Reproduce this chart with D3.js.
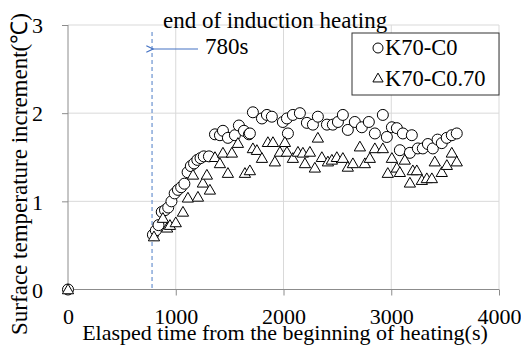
<!DOCTYPE html>
<html>
<head>
<meta charset="utf-8">
<script src="https://cdn.jsdelivr.net/npm/d3@7"></script>
<style>
  body { margin: 0; background: #fff; }
  svg text { font-family: "Liberation Serif", "Times New Roman", serif; }
</style>
</head>
<body>
<div id="chart"></div>
<script>
// K70-C0 (circles)
const timeC0 = [0, 788, 815, 840, 870, 900, 930, 960, 990, 1020, 1050, 1080, 1110, 1140, 1170, 1200, 1230,
  1260, 1308, 1364, 1410, 1438, 1484, 1549, 1586, 1633, 1679, 1688, 1716, 1800, 1846, 1892, 1994, 2032,
  2041, 2087, 2152, 2217, 2273, 2319, 2403, 2458, 2505, 2551, 2597, 2662, 2727, 2792, 2848, 2922, 2959,
  3006, 3052, 3080, 3108, 3173, 3191, 3247, 3293, 3340, 3386, 3430, 3469, 3515, 3562, 3608];
const valC0 = [0, 0.62, 0.67, 0.73, 0.88, 0.9, 0.93, 1.0, 1.09, 1.13, 1.16, 1.2, 1.33, 1.4, 1.43, 1.47, 1.49,
  1.51, 1.51, 1.76, 1.75, 1.8, 1.72, 1.75, 1.86, 1.8, 1.76, 1.77, 2.01, 1.94, 1.98, 1.96, 1.9, 1.94,
  1.77, 1.98, 2.0, 1.89, 1.87, 1.96, 1.87, 1.87, 1.9, 1.98, 1.81, 1.9, 1.84, 1.9, 1.77, 1.98, 1.73,
  1.84, 1.83, 1.58, 1.77, 1.55, 1.75, 1.6, 1.6, 1.65, 1.6, 1.7, 1.66, 1.72, 1.75, 1.77];

// K70-C0.70 (triangles)
const timeC070 = [0, 798, 881, 920, 946, 1000, 1067, 1113, 1160, 1206, 1252, 1289, 1317, 1364, 1410, 1438,
  1484, 1521, 1577, 1642, 1688, 1716, 1753, 1800, 1855, 1902, 1920, 1967, 2013, 2032, 2087, 2134, 2180,
  2199, 2245, 2291, 2319, 2356, 2412, 2449, 2495, 2551, 2597, 2644, 2709, 2755, 2801, 2848, 2922, 2968,
  3006, 3052, 3080, 3126, 3173, 3200, 3237, 3284, 3330, 3377, 3404, 3469, 3516, 3562, 3608];
const valC070 = [0, 0.6, 0.81, 0.7, 0.73, 0.76, 0.88, 1.04, 1.3, 1.05, 1.21, 1.3, 1.13, 1.5, 1.43, 1.55,
  1.32, 1.55, 1.66, 1.32, 1.35, 1.6, 1.58, 1.49, 1.67, 1.67, 1.45, 1.56, 1.67, 1.56, 1.49, 1.56, 1.55,
  1.43, 1.56, 1.38, 1.72, 1.5, 1.45, 1.47, 1.5, 1.49, 1.39, 1.43, 1.62, 1.43, 1.49, 1.6, 1.6, 1.32,
  1.49, 1.38, 1.33, 1.47, 1.21, 1.35, 1.35, 1.24, 1.26, 1.26, 1.45, 1.33, 1.41, 1.55, 1.45];

const xTicks = [0, 1000, 2000, 3000, 4000];
const yTicks = [0, 1, 2, 3];
const endTime = 780;

const width = 521, height = 347;
const serif = '"Liberation Serif", "Times New Roman", serif';
const svg = d3.select('#chart').append('svg')
    .attr('width', width)
    .attr('height', height);

const x = d3.scaleLinear().domain([0, 4000]).range([68, 499]);
const y = d3.scaleLinear().domain([0, 3]).range([289.5, 25]);

// gridlines
svg.append('g')
    .selectAll('line.vg')
    .data(xTicks.slice(1))
    .enter().append('line')
    .attr('x1', d => x(d)).attr('x2', d => x(d))
    .attr('y1', y(0)).attr('y2', y(3))
    .attr('stroke', '#d9d9d9').attr('stroke-width', 1);

svg.append('g')
    .selectAll('line.hg')
    .data(yTicks.slice(1))
    .enter().append('line')
    .attr('x1', x(0)).attr('x2', x(4000))
    .attr('y1', d => y(d)).attr('y2', d => y(d))
    .attr('stroke', '#d9d9d9').attr('stroke-width', 1);

// axes
const xAxis = svg.append('g')
    .attr('transform', `translate(0,${y(0)})`)
    .call(d3.axisBottom(x).tickValues(xTicks).tickSize(6).tickFormat(d3.format('d')));
const yAxis = svg.append('g')
    .attr('transform', `translate(${x(0)},0)`)
    .call(d3.axisLeft(y).tickValues(yTicks).tickSize(6).tickFormat(d3.format('d')));

[xAxis, yAxis].forEach(a => {
    a.attr('font-family', serif).attr('font-size', 22);
    a.select('.domain').attr('stroke', '#8c8c8c');
    a.selectAll('.tick line').attr('stroke', '#8c8c8c');
    a.selectAll('.tick text').attr('fill', '#000');
});
xAxis.select('.domain').attr('d', `M${x(0)},0H${x(4000)}`);
xAxis.selectAll('.tick line').filter(d => d === 0).remove();
xAxis.selectAll('.tick text').attr('y', 19);
yAxis.select('.domain').attr('d', `M0,${y(0)}V${y(3)}`);
yAxis.selectAll('.tick text').attr('x', -25).attr('dy', '0.35em');

// end of induction heating marker
svg.append('line')
    .attr('x1', x(endTime)).attr('x2', x(endTime))
    .attr('y1', 32).attr('y2', y(0))
    .attr('stroke', '#6b93d0').attr('stroke-width', 1.2)
    .attr('stroke-dasharray', '4,3');

svg.append('defs').append('marker')
    .attr('id', 'arr')
    .attr('viewBox', '0 0 10 10')
    .attr('refX', 1).attr('refY', 5)
    .attr('markerWidth', 7).attr('markerHeight', 7)
    .attr('orient', 'auto-start-reverse')
    .append('path')
    .attr('d', 'M9,1L1,5L9,9')
    .attr('fill', 'none')
    .attr('stroke', '#4472c4')
    .attr('stroke-width', 1.3);

svg.append('line')
    .attr('x1', 198).attr('x2', x(endTime) + 1)
    .attr('y1', 49).attr('y2', 49)
    .attr('stroke', '#4472c4').attr('stroke-width', 1.2)
    .attr('marker-end', 'url(#arr)');

svg.append('text')
    .attr('x', 163).attr('y', 28)
    .attr('font-size', 23)
    .text('end of induction heating');

svg.append('text')
    .attr('x', 205).attr('y', 54)
    .attr('font-size', 23)
    .text(endTime + 's');

// data points
const seriesC0 = timeC0.map((t, i) => ({ t, v: valC0[i] }));
const seriesC070 = timeC070.map((t, i) => ({ t, v: valC070[i] }));

const triangle = d3.symbol().type(d3.symbolTriangle).size(55);

svg.append('g')
    .selectAll('circle')
    .data(seriesC0)
    .enter().append('circle')
    .attr('cx', d => x(d.t))
    .attr('cy', d => y(d.v))
    .attr('r', 5.5)
    .attr('fill', '#fff')
    .attr('stroke', '#000')
    .attr('stroke-width', 1);

svg.append('g')
    .selectAll('path')
    .data(seriesC070)
    .enter().append('path')
    .attr('d', triangle)
    .attr('transform', d => `translate(${x(d.t)},${y(d.v) + 1})`)
    .attr('fill', '#fff')
    .attr('stroke', '#000')
    .attr('stroke-width', 1);

// legend
const legend = svg.append('g');
legend.append('rect')
    .attr('x', 352).attr('y', 33)
    .attr('width', 147).attr('height', 62)
    .attr('fill', '#fff')
    .attr('stroke', '#333').attr('stroke-width', 1);
legend.append('circle')
    .attr('cx', 378).attr('cy', 48).attr('r', 5)
    .attr('fill', '#fff').attr('stroke', '#000');
legend.append('path')
    .attr('d', d3.symbol().type(d3.symbolTriangle).size(45))
    .attr('transform', 'translate(378,79)')
    .attr('fill', '#fff').attr('stroke', '#000');
legend.append('text')
    .attr('x', 385).attr('y', 55)
    .attr('font-size', 22.5)
    .text('K70-C0');
legend.append('text')
    .attr('x', 385).attr('y', 86)
    .attr('font-size', 22.5)
    .text('K70-C0.70');

// axis titles
svg.append('text')
    .attr('x', 285).attr('y', 340)
    .attr('text-anchor', 'middle')
    .attr('font-size', 22)
    .text('Elasped time from the beginning of heating(s)');

svg.append('text')
    .attr('transform', 'translate(27,174) rotate(-90)')
    .attr('text-anchor', 'middle')
    .attr('font-size', 23)
    .text('Surface temperature increment(℃)');
</script>
</body>
</html>
